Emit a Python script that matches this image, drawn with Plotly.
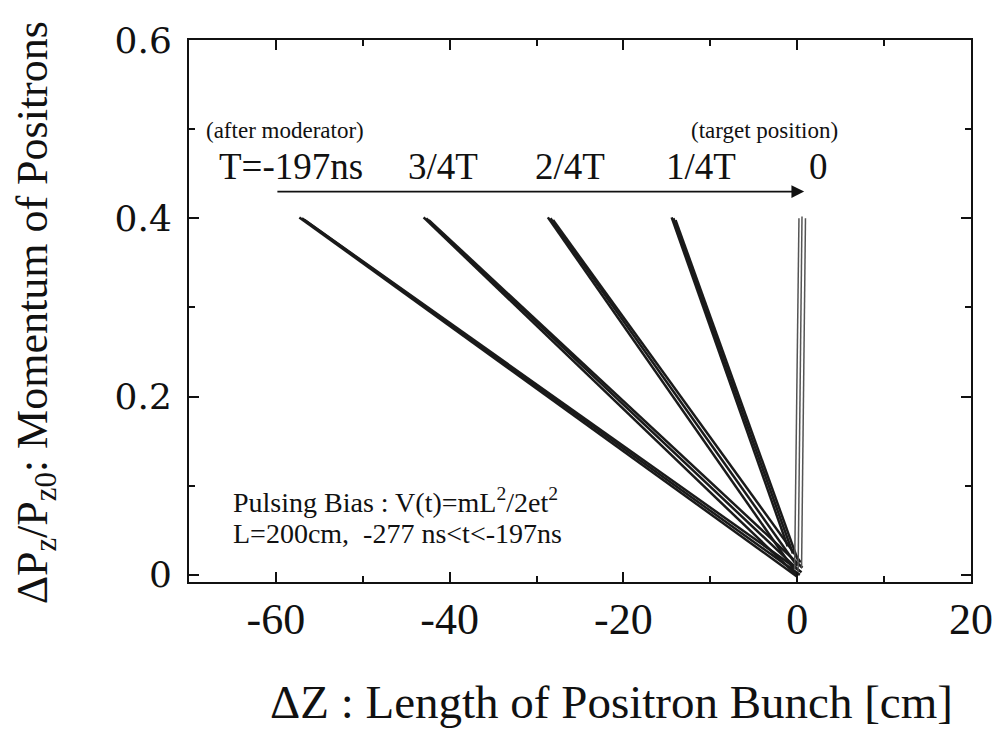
import plotly.graph_objects as go

# ---- data ----
bundle_names = ["T=-197ns", "3/4T", "2/4T", "1/4T", "0"]
# each bundle: several trajectories, each given by top point and bottom point
x_top = [
    [-57.3, -57.0, -56.7],
    [-43.0, -42.7, -42.4],
    [-28.7, -28.4, -28.1],
    [-14.45, -14.25, -14.0],
    [0.2, 0.55, 0.95],
]
y_top = [
    [0.401, 0.400, 0.398],
    [0.401, 0.400, 0.398],
    [0.401, 0.400, 0.398],
    [0.401, 0.400, 0.398],
    [0.400, 0.402, 0.400],
]
x_bot = [
    [0.0, 0.3, 0.5],
    [-0.1, 0.3, 0.6],
    [-0.4, 0.0, 0.4],
    [-1.1, -0.5, 0.1],
    [-0.3, 0.1, 0.5],
]
y_bot = [
    [-0.002, 0.000, 0.003],
    [0.000, 0.004, 0.008],
    [0.006, 0.010, 0.014],
    [0.032, 0.024, 0.016],
    [0.006, 0.003, 0.008],
]
label_x = [-58.3, -40.8, -26.1, -11.1, 2.5]
label_y = 0.458
arrow_x = [-60.0, 0.8]
arrow_y = 0.430

xtick_vals = [-60, -40, -20, 0, 20]
xtick_text = ["-60", "-40", "-20", "0", "20"]
ytick_vals = [0, 0.2, 0.4, 0.6]
ytick_text = ["0", "0.2", "0.4", "0.6"]

SERIF = "Liberation Serif"

fig = go.Figure()
for b in range(len(bundle_names)):
    is_zero = b == len(bundle_names) - 1
    for j in range(len(x_top[b])):
        fig.add_trace(go.Scatter(
            x=[x_top[b][j], x_bot[b][j]],
            y=[y_top[b][j], y_bot[b][j]],
            mode="lines",
            line=dict(color="#555555" if is_zero else "#1a1a1a",
                      width=1.5 if is_zero else 2.5),
            showlegend=False, hoverinfo="skip",
        ))

annotations = []
for name, lx in zip(bundle_names, label_x):
    annotations.append(dict(x=lx, y=label_y, xref="x", yref="y", text=name,
                            showarrow=False, font=dict(family=SERIF, size=37, color="#111")))
annotations.append(dict(x=-58.9, y=0.498, xref="x", yref="y", text="(after moderator)",
                        showarrow=False, font=dict(family=SERIF, size=23, color="#111")))
annotations.append(dict(x=-3.8, y=0.498, xref="x", yref="y", text="(target position)",
                        showarrow=False, font=dict(family=SERIF, size=23, color="#111")))
annotations.append(dict(x=arrow_x[1], y=arrow_y, ax=arrow_x[0], ay=arrow_y,
                        xref="x", yref="y", axref="x", ayref="y", text="",
                        showarrow=True, arrowhead=2, arrowsize=1.5, arrowwidth=1.7,
                        arrowcolor="#111"))
annotations.append(dict(x=-65.2, y=0.083, xref="x", yref="y", xanchor="left", yanchor="middle",
                        text="Pulsing Bias : V(t)=mL<sup>2</sup>/2et<sup>2</sup>",
                        showarrow=False, font=dict(family=SERIF, size=28, color="#111")))
annotations.append(dict(x=-65.2, y=0.046, xref="x", yref="y", xanchor="left", yanchor="middle",
                        text="L=200cm,  -277 ns&lt;t&lt;-197ns",
                        showarrow=False, font=dict(family=SERIF, size=28, color="#111")))
# axis titles
annotations.append(dict(x=0.54, y=-0.222, xref="paper", yref="paper",
                        xanchor="center", yanchor="middle",
                        text="ΔZ : Length of Positron Bunch [cm]",
                        showarrow=False, font=dict(family=SERIF, size=47, color="#111")))
annotations.append(dict(x=-0.196, y=0.497, xref="paper", yref="paper", textangle=-90,
                        xanchor="center", yanchor="middle",
                        text="ΔP<sub>z</sub>/P<sub>z0</sub>: Momentum of Positrons",
                        showarrow=False, font=dict(family=SERIF, size=44, color="#111")))

fig.update_layout(
    width=1005, height=739,
    margin=dict(l=189, r=31, t=40, b=157),
    paper_bgcolor="white", plot_bgcolor="white",
    annotations=annotations,
    showlegend=False,
    font=dict(family=SERIF),
)
fig.update_xaxes(
    range=[-70, 20], tickvals=xtick_vals, ticktext=xtick_text,
    ticks="inside", ticklen=10, tickwidth=1.5, tickcolor="#111",
    minor=dict(dtick=10, tick0=0, ticks="inside", ticklen=6, tickwidth=1.5, tickcolor="#111"),
    showline=True, linecolor="#111", linewidth=2, mirror="ticks",
    showgrid=False, zeroline=False,
    tickfont=dict(family=SERIF, size=44, color="#111"),
    ticklabelstandoff=-3,
)
fig.update_yaxes(
    range=[-0.008, 0.6], tickvals=ytick_vals, ticktext=ytick_text,
    ticks="inside", ticklen=10, tickwidth=1.5, tickcolor="#111",
    minor=dict(dtick=0.1, tick0=0, ticks="inside", ticklen=6, tickwidth=1.5, tickcolor="#111"),
    showline=True, linecolor="#111", linewidth=2, mirror="ticks",
    showgrid=False, zeroline=False,
    tickfont=dict(family="DejaVu Serif", size=36, color="#111"),
    ticklabelstandoff=8,
)

fig.write_html("out.html")
